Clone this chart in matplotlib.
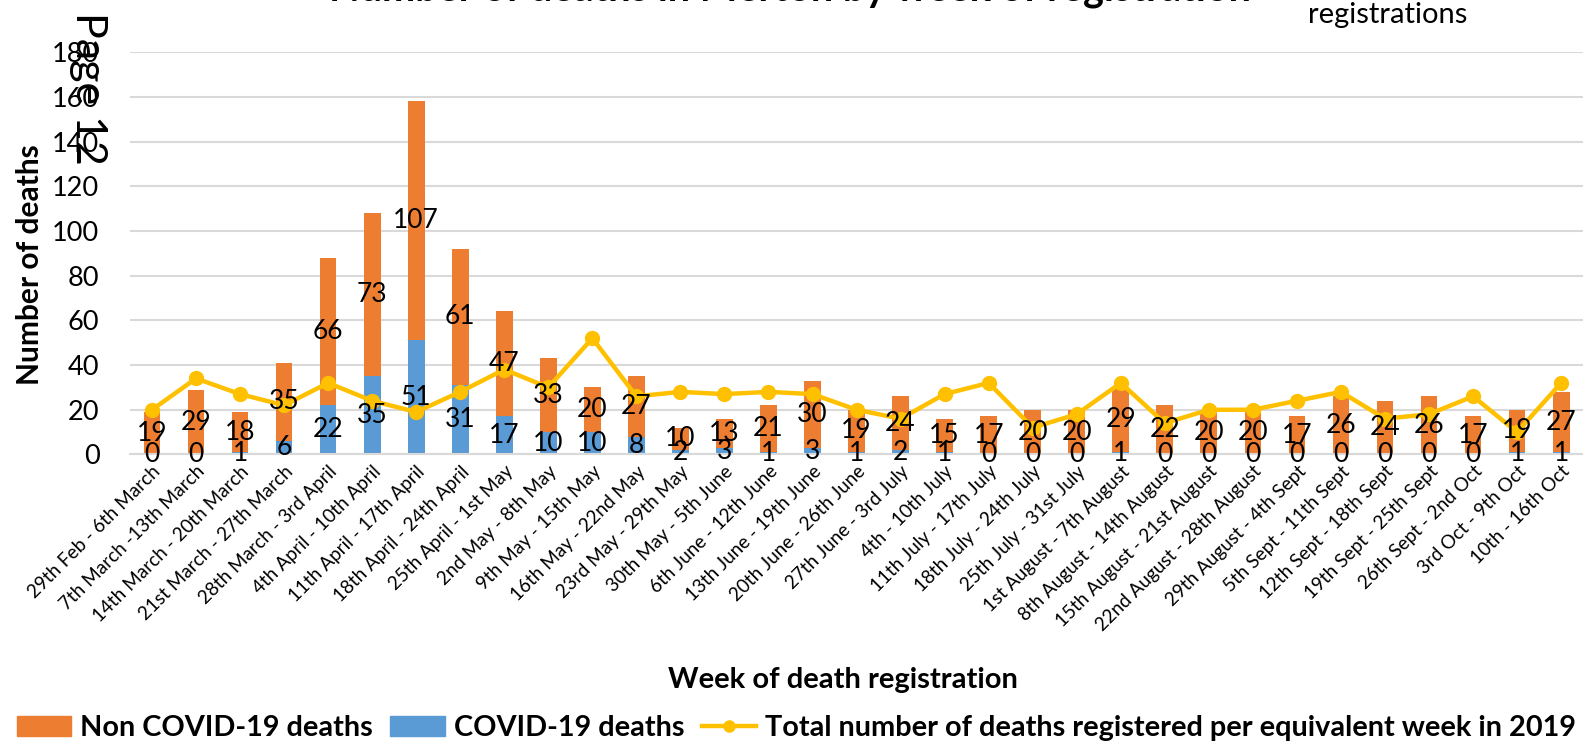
import matplotlib.pyplot as plt
from matplotlib.lines import Line2D
from matplotlib.patches import Patch

plt.rcParams['font.family'] = ['Lato', 'DejaVu Sans']

weeks = ['29th Feb - 6th March', '7th March -13th March', '14th March - 20th March',
         '21st March - 27th March', '28th March - 3rd April', '4th April - 10th April',
         '11th April - 17th April', '18th April - 24th April', '25th April - 1st May',
         '2nd May - 8th May', '9th May - 15th May', '16th May - 22nd May',
         '23rd May - 29th May', '30th May - 5th June', '6th June - 12th June',
         '13th June - 19th June', '20th June - 26th June', '27th June - 3rd July',
         '4th - 10th July', '11th July - 17th July', '18th July - 24th July',
         '25th July - 31st July', '1st August - 7th August', '8th August - 14th August',
         '15th August - 21st August', '22nd August - 28th August', '29th August - 4th Sept',
         '5th Sept - 11th Sept', '12th Sept - 18th Sept', '19th Sept - 25th Sept',
         '26th Sept - 2nd Oct', '3rd Oct - 9th Oct', '10th - 16th Oct']
covid = [0, 0, 1, 6, 22, 35, 51, 31, 17, 10, 10, 8, 2, 3, 1, 3, 1, 2, 1, 0, 0, 0,
         1, 0, 0, 0, 0, 0, 0, 0, 0, 1, 1]
non_covid = [19, 29, 18, 35, 66, 73, 107, 61, 47, 33, 20, 27, 10, 13, 21, 30, 19, 24,
             15, 17, 20, 20, 29, 22, 20, 20, 17, 26, 24, 26, 17, 19, 27]
total_2019 = [20, 34, 27, 22, 32, 24, 19, 28, 38, 30, 52, 26, 28, 27, 28, 27, 20, 16,
              27, 32, 12, 18, 32, 14, 20, 20, 24, 28, 16, 18, 26, 10, 32]

orange = '#ED7D31'
blue = '#5B9BD5'
yellow = '#FFC000'

fig = plt.figure(figsize=(15.83, 7.45), dpi=100)
ax = fig.add_axes([0.0821, 0.39, 0.918, 0.540])

x = list(range(len(weeks)))
ax.bar(x, covid, width=0.38, color=blue, zorder=2)
ax.bar(x, non_covid, width=0.38, bottom=covid, color=orange, zorder=2)
ax.plot(x, total_2019, color=yellow, linewidth=3.2, marker='o', markersize=10, zorder=3)

for i in x:
    ax.text(i, covid[i] / 2, str(covid[i]), ha='center', va='center', fontsize=19, zorder=4)
    ax.text(i, covid[i] + non_covid[i] / 2, str(non_covid[i]), ha='center', va='center',
            fontsize=19, zorder=4)

ax.set_xlim(-0.5, len(weeks) - 0.5)
ax.set_ylim(0, 180)
ax.set_yticks(range(0, 181, 20))
ax.tick_params(axis='y', labelsize=19.5, length=0, pad=22)
ax.set_xticks(x)
ax.set_xticklabels(weeks, rotation=45, ha='right', rotation_mode='anchor', fontsize=13.6)
ax.tick_params(axis='x', length=0, pad=6)
ax.grid(axis='y', color='#D9D9D9', linewidth=1.5, zorder=0)
for s in ['top', 'left', 'right']:
    ax.spines[s].set_visible(False)
ax.spines['bottom'].set_color('#D9D9D9')
ax.spines['bottom'].set_linewidth(1.5)

fig.text(30 / 1583, 1 - 265 / 745, 'Number of deaths', ha='center', va='center',
         rotation=90, fontsize=21.5, fontweight='bold')
fig.text(843 / 1583, 1 - 680 / 745, 'Week of death registration', ha='center', va='center',
         fontsize=21, fontweight='bold')

fig.text(790 / 1583, 1 - 0.5 / 745, 'Number of deaths in Merton by week of registration',
         ha='center', va='baseline', fontsize=28.5, fontweight='bold')
fig.text(1388 / 1583, 1 - 15 / 745, 'registrations', ha='center', va='center', fontsize=21)
fig.text(88 / 1583, 1 - 88 / 745, 'Page 12', ha='center', va='center', rotation=270,
         fontsize=31)

handles = [Patch(color=orange), Patch(color=blue),
           Line2D([], [], color=yellow, linewidth=3.2, marker='o', markersize=8)]
fig.legend(handles, ['Non COVID-19 deaths', 'COVID-19 deaths',
                     'Total number of deaths registered per equivalent week in 2019'],
           loc='lower left', bbox_to_anchor=(-0.006, -0.03), ncol=3, frameon=False,
           prop={'size': 20.8, 'weight': 'bold'}, handlelength=1.9, handletextpad=0.3,
           columnspacing=0.6)

fig.savefig('out.png', dpi=100)
